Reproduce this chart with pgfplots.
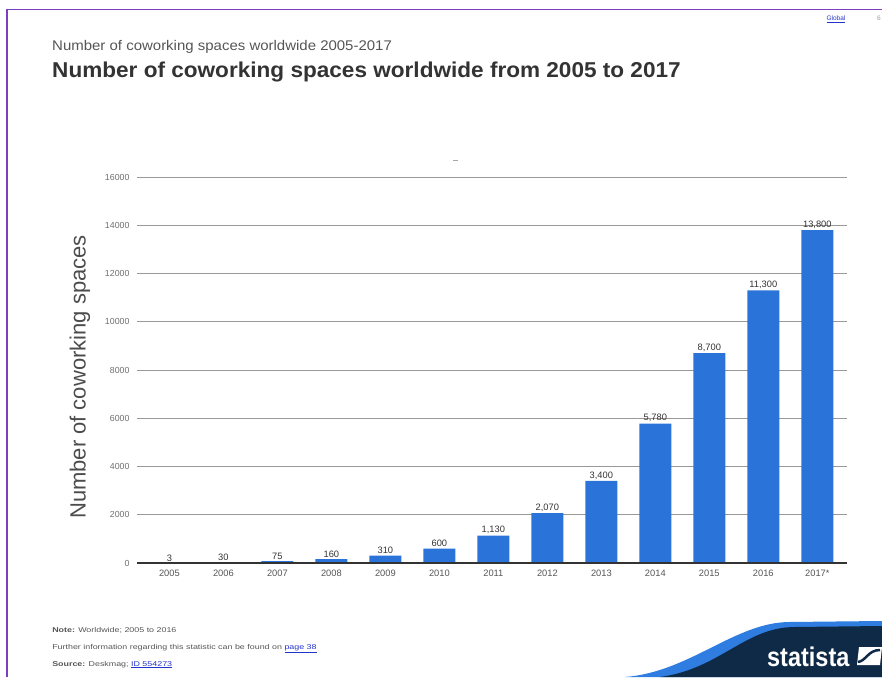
\documentclass[border=0pt]{standalone}
\usepackage{fontspec}
\setmainfont{Liberation Sans}
\usepackage{pgfplots}
\pgfplotsset{compat=1.18}
\definecolor{barblue}{HTML}{2A74D9}
\definecolor{navy}{HTML}{0F2A47}
\definecolor{lightblue}{HTML}{2F7DE0}
\definecolor{frame}{HTML}{7B3FBF}
\definecolor{txtgray}{HTML}{555555}
\definecolor{ttl}{HTML}{333333}
\definecolor{linkblue}{HTML}{2233CC}
\newcommand{\fs}[1]{\fontsize{#1}{#1}\selectfont}
\begin{document}
\begin{tikzpicture}
\path[use as bounding box] (0pt,0pt) rectangle (882pt,677pt);
% frame
\draw[frame, line width=1.6pt] (7pt,0pt) -- (7pt,667.5pt) -- (882pt,667.5pt);
% top right
\node[anchor=base, text=linkblue, font=\fs{6.5}] at (836pt,656pt) {\underline{Global}};
\node[anchor=base, text=txtgray!60, font=\fs{6.5}] at (879pt,656pt) {6};
% titles
\node[anchor=base west, inner sep=0, text=txtgray, font=\fs{14}, xscale=1.07] at (52pt,626pt) {Number of coworking spaces worldwide 2005-2017};
\node[anchor=base west, inner sep=0, text=ttl, font=\fs{21.5}\bfseries, xscale=1.05] at (52pt,599pt) {Number of coworking spaces worldwide from 2005 to 2017};
% stray dash
\draw[gray!70, line width=0.8pt] (453pt,517pt) -- (458pt,517pt);
% y label
\node[rotate=90, text=txtgray!90!black, font=\fs{22}] at (80pt,300pt) {Number of coworking spaces};
\begin{axis}[
  at={(137pt,114pt)}, anchor=south west,
  scale only axis, width=710pt, height=386pt,
  ybar, bar width=32pt,
  xmin=-0.6, xmax=12.55, ymin=0, ymax=16000,
  axis line style={draw=none},
  xtick=data,
  xticklabels={2005,2006,2007,2008,2009,2010,2011,2012,2013,2014,2015,2016,2017*},
  ytick={0,2000,...,16000},
  major tick length=0pt,
  ymajorgrids, grid style={gray!80, line width=0.9pt},
  scaled y ticks=false,
  /pgf/number format/assume math mode=true,
  yticklabel style={/pgf/number format/1000 sep={}, font=\fs{8.8}, text=txtgray!85, xshift=-4pt},
  xticklabel style={font=\fs{9.3}, text=txtgray, yshift=-3pt},
  nodes near coords={\pgfmathprintnumber[1000 sep={,}]{\pgfplotspointmeta}},
  nodes near coords style={font=\fs{9.3}, text=ttl, inner sep=1.5pt},
  clip=false,
]
\addplot[fill=barblue, draw=none] coordinates {
(0,3) (1,30) (2,75) (3,160) (4,310) (5,600) (6,1130) (7,2070) (8,3400) (9,5780) (10,8700) (11,11300) (12,13800)};
\draw[ttl, line width=1.8pt] (axis cs:-0.6,0) -- (axis cs:12.55,0);
\end{axis}
% footer
\node[anchor=base west, inner sep=0, text=txtgray, font=\fs{7}, xscale=1.27] at (52pt,45pt) {\textbf{Note:} Worldwide; 2005 to 2016};
\node[anchor=base west, inner sep=0, text=txtgray, font=\fs{7}, xscale=1.27] at (52pt,28pt) {Further information regarding this statistic can be found on \textcolor{linkblue}{\underline{page 38}}};
\node[anchor=base west, inner sep=0, text=txtgray, font=\fs{7}, xscale=1.27] at (52pt,11pt) {\textbf{Source:} Deskmag; \textcolor{linkblue}{\underline{ID 554273}}};
% logo
\fill[lightblue] (625pt,0pt) .. controls (690pt,5pt) and (735pt,55pt) .. (790pt,55pt) -- (882pt,56pt) -- (882pt,0pt) -- cycle;
\fill[navy] (660pt,0pt) .. controls (720pt,8pt) and (745pt,50pt) .. (795pt,50pt) -- (882pt,51pt) -- (882pt,0pt) -- cycle;
\node[anchor=base west, inner sep=0, text=white, font=\fs{27}\bfseries, xscale=0.87] at (767pt,11pt) {statista};
\fill[white] (857pt,12pt) -- (880pt,12pt) -- (882pt,30pt) -- (859pt,30pt) -- cycle;
\draw[navy, line width=2.5pt] (858pt,15pt) .. controls (866pt,16pt) and (868pt,27pt) .. (880pt,27pt);
\end{tikzpicture}
\end{document}
